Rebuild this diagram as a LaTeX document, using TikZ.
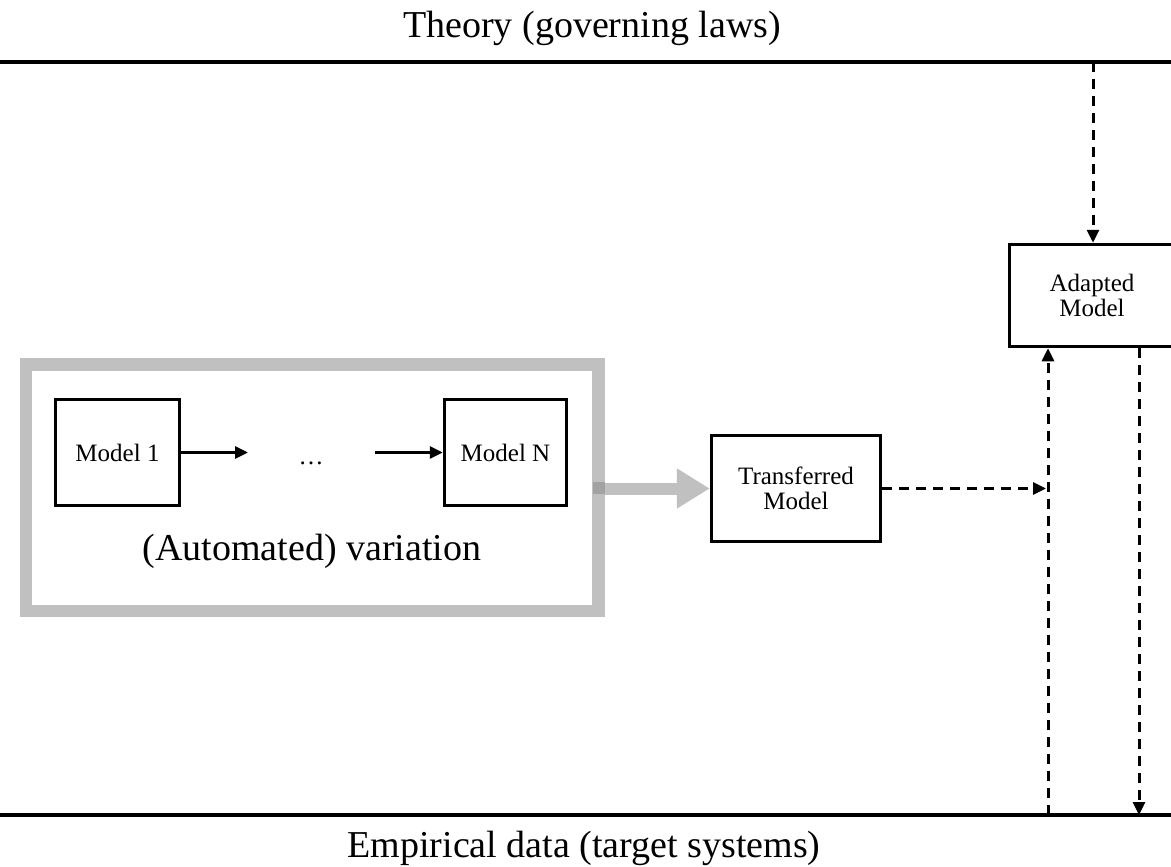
\documentclass[tikz,border=0pt]{standalone}
\usepackage{fontspec}
\setmainfont{Liberation Serif}
\usetikzlibrary{arrows.meta}
\definecolor{framegray}{HTML}{C0C0C0}
\definecolor{overlapgray}{HTML}{A2A2A2}
\tikzset{
  box/.style={draw=black, line width=3.5pt, fill=white, inner sep=0pt, align=center,
    font=\fontsize{25}{25}\selectfont},
  bigtext/.style={inner sep=0pt, font=\fontsize{38}{40}\selectfont},
  solidarrow/.style={line width=3pt, -{Triangle[length=13pt,width=12pt]}},
  dasharrow/.style={line width=3pt, dash pattern=on 10pt off 7pt, -{Triangle[length=13pt,width=12pt]}},
  rule/.style={line width=3.5pt},
  grayframe/.style={draw=framegray, line width=12.5pt, inner sep=0pt},
  grayarrow/.style={draw=framegray, line width=12pt, -{Triangle[length=33pt,width=38pt]}}
}
\begin{document}
\begin{tikzpicture}[x=1pt,y=-1pt]
\useasboundingbox (0,0) rectangle (1171,867);
\clip (0,0) rectangle (1171,867);
\fill[white] (0,0) rectangle (1171,867);

% titles and rules
\node[bigtext] (theory) at (592,28) {Theory (governing laws)};
\node[bigtext] (empirical) at (584,848) {Empirical data (target systems)};
\coordinate (tl) at (0,62);
\coordinate (tr) at (1171,62);
\coordinate (bl) at (0,815);
\coordinate (br) at (1171,815);
\draw[rule] (tl) -- (tr);
\draw[rule] (bl) -- (br);

% variation frame
\node[grayframe, minimum width=572.5pt, minimum height=246.5pt] (var) at (312.25,487.75) {};
\node[box, minimum width=124pt, minimum height=106pt] (m1) at (117.5,452.5) {Model 1};
\node[box, minimum width=122pt, minimum height=106pt] (mN) at (505.5,452.5) {Model N};
\node[anchor=base, inner sep=0pt, font=\fontsize{25}{26}\selectfont] (dots) at (311,464) {…};
\coordinate (d1) at (248,452.5);
\coordinate (d2) at (375,452.5);
\draw[solidarrow] (m1) -- (d1);
\draw[solidarrow] (d2) -- (mN);
\node[bigtext] (vartext) at (312,551) {(Automated) variation};

% transferred / adapted
\node[box, minimum width=169pt, minimum height=106pt] (tm) at (796,488.5) {Transferred\\Model};
\node[box, minimum width=165pt, minimum height=102pt] (am) at (1092,295.5) {Adapted\\Model};

% gray arrow
\draw[grayarrow] (var.east |- tm.west) -- (tm.west);
\fill[overlapgray] (592.5,482) rectangle (604.5,494);

% dashed connectors
\coordinate (topin) at (1093,62);
\coordinate (upfoot) at (1048,815);
\coordinate (downfoot) at (1139,815);
\draw[dasharrow] (topin) -- (topin |- am.north);
\draw[dasharrow] (upfoot) -- (upfoot |- am.south);
\draw[dasharrow] (downfoot |- am.south) -- (downfoot);
\draw[dasharrow, shorten >=2pt] (tm.east) -- (tm.east -| upfoot);
\end{tikzpicture}
\end{document}
